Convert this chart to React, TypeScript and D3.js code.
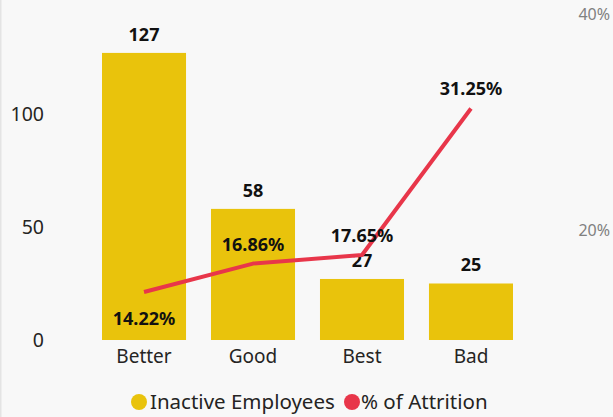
import React, { useRef, useEffect } from "react";
import * as d3 from "d3";

const categories = ["Better", "Good", "Best", "Bad"];
const inactiveEmployees = [127, 58, 27, 25];
const attrition = [0.1422, 0.1686, 0.1765, 0.3125];
const leftTicks = [0, 50, 100];
const rightTicks = [0.2, 0.4];

const barColor = "#E9C30C";
const lineColor = "#E8364A";
const font = "'Segoe UI', 'Noto Sans', 'Open Sans', sans-serif";

const App = () => {
  const svgRef = useRef<SVGSVGElement>(null);

  useEffect(() => {
    const width = 613;
    const height = 417;
    const plotTop = 12;
    const plotBottom = 340;

    const svg = d3.select(svgRef.current).attr("width", width).attr("height", height);
    svg.selectAll("*").remove();

    svg.append("rect").attr("width", width).attr("height", height).attr("fill", "#F8F8F8");
    svg.append("rect").attr("width", 1.5).attr("height", height).attr("fill", "#E4E4E4");

    const x = d3.scaleBand().domain(categories).range([102, 513]).paddingInner(0.229).paddingOuter(0);
    const y = d3.scaleLinear().domain([0, 145.1]).range([plotBottom, plotTop]);
    const y2 = d3.scaleLinear().domain([0.0977, 0.402]).range([plotBottom, plotTop]);
    const cx = (i: number) => x(categories[i])! + x.bandwidth() / 2;

    // left axis labels
    svg
      .append("g")
      .selectAll("text")
      .data(leftTicks)
      .enter()
      .append("text")
      .attr("x", 44)
      .attr("y", (d) => y(d) + 7)
      .attr("text-anchor", "end")
      .attr("font-family", font)
      .attr("font-size", 19.5)
      .attr("fill", "#252423")
      .text((d) => d);

    // right axis labels
    svg
      .append("g")
      .selectAll("text")
      .data(rightTicks)
      .enter()
      .append("text")
      .attr("x", 610)
      .attr("y", (d) => y2(d) + 6)
      .attr("text-anchor", "end")
      .attr("font-family", font)
      .attr("font-size", 16)
      .attr("fill", "#808080")
      .text((d) => d3.format(".0%")(d));

    // bars
    svg
      .append("g")
      .selectAll("rect")
      .data(inactiveEmployees)
      .enter()
      .append("rect")
      .attr("x", (_, i) => x(categories[i])!)
      .attr("y", (d) => y(d))
      .attr("width", x.bandwidth())
      .attr("height", (d) => y(0) - y(d))
      .attr("fill", barColor);

    // x labels
    svg
      .append("g")
      .selectAll("text")
      .data(categories)
      .enter()
      .append("text")
      .attr("x", (_, i) => cx(i))
      .attr("y", 363)
      .attr("text-anchor", "middle")
      .attr("font-family", font)
      .attr("font-size", 19)
      .attr("fill", "#252423")
      .text((d) => d);

    // bar labels
    svg
      .append("g")
      .selectAll("text")
      .data(inactiveEmployees)
      .enter()
      .append("text")
      .attr("x", (_, i) => cx(i))
      .attr("y", (d) => y(d) - 12)
      .attr("text-anchor", "middle")
      .attr("font-family", font)
      .attr("font-size", 18)
      .attr("font-weight", "bold")
      .attr("fill", "#111")
      .text((d) => d);

    // line
    const line = d3
      .line<number>()
      .x((_, i) => cx(i))
      .y((d) => y2(d));

    svg
      .append("path")
      .datum(attrition)
      .attr("fill", "none")
      .attr("stroke", lineColor)
      .attr("stroke-width", 4)
      .attr("stroke-linejoin", "round")
      .attr("d", line);

    // line labels
    svg
      .append("g")
      .selectAll("text")
      .data(attrition)
      .enter()
      .append("text")
      .attr("x", (_, i) => cx(i))
      .attr("y", (d, i) => (i === 0 ? y2(d) + 33 : y2(d) - 13))
      .attr("text-anchor", "middle")
      .attr("font-family", font)
      .attr("font-size", 18)
      .attr("font-weight", "bold")
      .attr("fill", "#111")
      .text((d) => d3.format(".2%")(d));

    // legend
    const legend = svg.append("g").attr("font-family", font).attr("font-size", 20.5).attr("fill", "#252423");
    legend.append("circle").attr("cx", 139).attr("cy", 402).attr("r", 8).attr("fill", barColor);
    legend.append("text").attr("x", 150).attr("y", 409).text("Inactive Employees");
    legend.append("circle").attr("cx", 352).attr("cy", 402).attr("r", 8).attr("fill", lineColor);
    legend.append("text").attr("x", 361).attr("y", 409).text("% of Attrition");
  }, []);

  return (
    <div style={{ position: "absolute", left: 0, top: 0 }}>
      <svg ref={svgRef} style={{ display: "block" }} />
    </div>
  );
};

export default App;
